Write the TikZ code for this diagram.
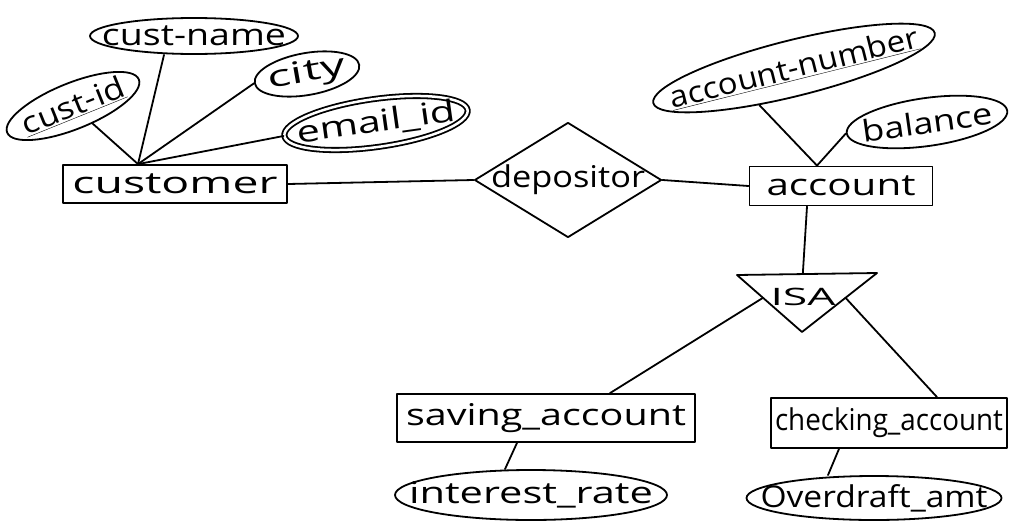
\documentclass[tikz,border=0pt]{standalone}
\usepackage{fontspec}
\setmainfont{Open Sans}
\usetikzlibrary{shapes.geometric,calc}
\newcommand\fw[2]{\makebox[0pt]{\resizebox{#1}{\height}{#2}}}
\begin{document}
\begin{tikzpicture}[x=1pt,y=-1pt, line width=1.8pt, line join=round, line cap=round,
  every node/.style={font=\fontsize{30}{36}\selectfont},
  entity/.style={draw, rectangle, inner sep=0pt},
  attr/.style={draw, ellipse, inner sep=0pt},
  rel/.style={draw, diamond, inner sep=0pt},
  dblattr/.style={attr, double, double distance=2.5pt},
  isafont/.style={font=\fontsize{24}{28}\selectfont, inner sep=0pt}]
\useasboundingbox (0,0) rectangle (1011,522);

% customer side
\node[attr, rotate=22, minimum width=142pt, minimum height=46pt] (custid) at (73,106) {\fw{108pt}{\underline{cust-id}}};
\node[attr, minimum width=208pt, minimum height=36pt] (custname) at (194,36) {\fw{184pt}{cust-name}};
\node[attr, rotate=10, minimum width=106pt, minimum height=42pt] (city) at (307,74) {\fw{78pt}{city}};
\node[dblattr, rotate=8, minimum width=185pt, minimum height=48pt] (email) at (376,123) {\fw{160pt}{email\_id}};
\node[entity, minimum width=224pt, minimum height=38pt] (customer) at (175,184) {\fw{205pt}{customer}};
\coordinate (cj) at ($(customer.north)+(-37,0)$);

% relationship
\node[rel, minimum width=187pt, minimum height=115pt] (depositor) at (568,180) {\fw{154pt}{depositor}};

% account side
\node[entity, minimum width=183pt, minimum height=39pt] (account) at (841,186) {\fw{149pt}{account}};
\node[attr, rotate=14, minimum width=290pt, minimum height=56pt] (accnum) at (794,68) {\fw{255pt}{\underline{account-number}}};
\node[attr, rotate=8, minimum width=162pt, minimum height=48pt] (balance) at (927,122) {\fw{131pt}{balance}};
\coordinate (aj) at ($(account.north)+(-24,0)$);

% ISA triangle
\coordinate (isaTL) at (737,275);
\coordinate (isaTR) at (877,273);
\coordinate (isaB) at (802,332);
\draw (isaTL) -- (isaTR) -- (isaB) -- cycle;
\node[isafont] (isa) at (803,297) {\fw{65pt}{ISA}};
\coordinate (isaT) at ($(isaTL)!0.47!(isaTR)$);
\coordinate (isaL) at ($(isaTL)!0.40!(isaB)$);
\coordinate (isaR) at ($(isaTR)!0.42!(isaB)$);

% subclasses
\node[entity, minimum width=298pt, minimum height=48pt] (saving) at (546,418) {\fw{280pt}{saving\_account}};
\node[entity, minimum width=236pt, minimum height=50pt] (checking) at (889,423) {\fw{228pt}{checking\_account}};
\node[attr, minimum width=272pt, minimum height=50pt] (interest) at (531,495) {\fw{244pt}{interest\_rate}};
\node[attr, minimum width=255pt, minimum height=44pt] (overdraft) at (874,498) {\fw{227pt}{Overdraft\_amt}};

% connectors
\draw (cj) -- (custid);
\draw (cj) -- ($(custname.south)+(-30,0)$);
\draw (cj) -- (city.west);
\draw (cj) -- (email.west);
\draw (customer.east) -- (depositor.west);
\draw (depositor.east) -- (account.west);
\draw (aj) -- (accnum.213);
\draw (aj) -- (balance.west);
\draw ($(account.south)+(-34,0)$) -- (isaT);
\draw (isaL) -- ($(saving.north)+(64,0)$);
\draw (isaR) -- ($(checking.north)+(48,0)$);
\draw ($(saving.south)+(-29,0)$) -- ($(interest.north)+(-26,0)$);
\draw ($(checking.south)+(-50,0)$) -- ($(overdraft.north)+(-46,0)$);
\end{tikzpicture}
\end{document}
